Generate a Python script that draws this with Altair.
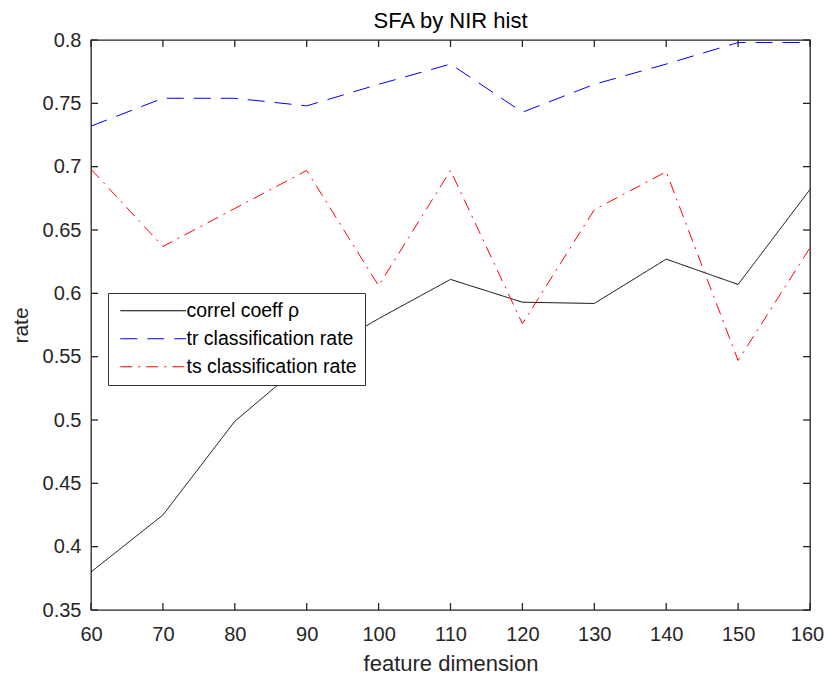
import altair as alt
import pandas as pd

dims = [60, 70, 80, 90, 100, 110, 120, 130, 140, 150, 160]
correl = [0.380, 0.425, 0.499, 0.547, 0.580, 0.611, 0.593, 0.592, 0.627, 0.607, 0.682]
tr_rate = [0.732, 0.754, 0.754, 0.748, 0.765, 0.781, 0.743, 0.765, 0.781, 0.798, 0.798]
ts_rate = [0.698, 0.637, 0.667, 0.697, 0.606, 0.697, 0.576, 0.666, 0.696, 0.547, 0.636]

series_names = ["correl coeff ρ", "tr classification rate", "ts classification rate"]
series_colors = ["#000000", "#0000ff", "#ff0000"]
x_ticks = [60, 70, 80, 90, 100, 110, 120, 130, 140, 150, 160]
y_ticks = [0.35, 0.4, 0.45, 0.5, 0.55, 0.6, 0.65, 0.7, 0.75, 0.8]

rows = []
for name, vals in zip(series_names, [correl, tr_rate, ts_rate]):
    for d, v in zip(dims, vals):
        rows.append({"dim": d, "rate": v, "series": name})
df = pd.DataFrame(rows)
xt = pd.DataFrame({"dim": x_ticks})
yt = pd.DataFrame({"rate": y_ticks})

W, H = 719, 570
FONT = "Liberation Sans"
TXT = "#262626"
xs = alt.Scale(domain=[60, 160], nice=False, zero=False)
ys = alt.Scale(domain=[0.35, 0.8], nice=False, zero=False)
axis_style = dict(ticks=False, tickSize=0, domain=False, grid=False, labelFlush=False,
                  labelFont=FONT, labelFontSize=20, labelColor=TXT,
                  titleFont=FONT, titleFontWeight="normal", titleColor=TXT)
xaxis = alt.Axis(values=x_ticks, labelPadding=14, titlePadding=9, titleFontSize=22,
                 labelOffset=alt.condition("datum.value == 160", alt.value(-3), alt.value(0)),
                 **axis_style)
yaxis = alt.Axis(values=y_ticks, format=".2~f", labelPadding=10, titlePadding=11,
                 titleFontSize=21, **axis_style)

leg = alt.Legend(
    title=None, orient="none", legendX=17, legendY=253,
    symbolType="M-1,0H11", symbolSize=121, symbolStrokeWidth=1.2,
    labelOffset=51, labelFontSize=19.5, labelFont=FONT, labelColor="black",
    labelLimit=400, rowPadding=7, padding=8,
    fillColor="white", strokeColor="#333333",
)

lines = alt.Chart(df).mark_line(strokeWidth=1).encode(
    x=alt.X("dim:Q", scale=xs, title="feature dimension", axis=xaxis),
    y=alt.Y("rate:Q", scale=ys, title="rate", axis=yaxis),
    color=alt.Color("series:N", scale=alt.Scale(domain=series_names, range=series_colors),
                    sort=series_names, legend=leg),
    strokeDash=alt.StrokeDash("series:N", scale=alt.Scale(domain=series_names,
                              range=[[1, 0], [17, 10], [12, 6, 2, 6]]),
                              sort=series_names, legend=leg),
)

tk = 7
tcol = "#262626"
bottom = alt.Chart(xt).mark_rule(color=tcol, strokeWidth=1.3).encode(
    x=alt.X("dim:Q", scale=xs, title="feature dimension", axis=xaxis), y=alt.value(H), y2=alt.value(H - tk))
top = alt.Chart(xt).mark_rule(color=tcol, strokeWidth=1.3).encode(
    x=alt.X("dim:Q", scale=xs, title="feature dimension", axis=xaxis), y=alt.value(0), y2=alt.value(tk))
left = alt.Chart(yt).mark_rule(color=tcol, strokeWidth=1.3).encode(
    y=alt.Y("rate:Q", scale=ys, title="rate", axis=yaxis), x=alt.value(0), x2=alt.value(tk))
right = alt.Chart(yt).mark_rule(color=tcol, strokeWidth=1.3).encode(
    y=alt.Y("rate:Q", scale=ys, title="rate", axis=yaxis), x=alt.value(W), x2=alt.value(W - tk))

chart = alt.layer(lines, bottom, top, left, right).properties(
    width=W, height=H,
    background="white",
    title=alt.TitleParams("SFA by NIR hist", fontSize=22, font=FONT, fontWeight="normal",
                          color="black", offset=-3, anchor="middle", frame="group"),
    autosize=alt.AutoSizeParams(type="none"),
    padding={"left": 83, "top": 32, "right": 15, "bottom": 74},
).configure_view(
    stroke=tcol, strokeWidth=1.3
)

chart.save("out.html", embed_options={"renderer": "svg", "actions": False})
